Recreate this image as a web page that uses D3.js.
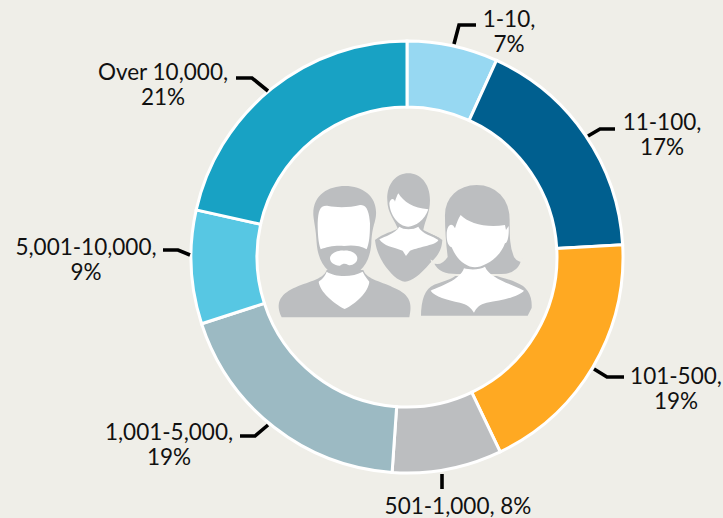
<!DOCTYPE html>
<html><head><meta charset="utf-8">
<script src="https://cdn.jsdelivr.net/npm/d3@7/dist/d3.min.js"></script>
<style>html,body{margin:0;padding:0;background:#efeee8}svg{display:block}</style>
</head><body><div id="chart"></div>
<script>
const categories=["1-10","11-100","101-500","501-1,000","1,001-5,000","5,001-10,000","Over 10,000"];
const values=[6.8,17.3,18.8,8.2,18.9,8.5,21.5];
const colors=["#97d8f2","#005f8f","#ffa922","#bcbec0","#9cbac3","#57c7e3","#18a2c4"];
const labelLines=[["1-10,","7%"],["11-100,","17%"],["101-500,","19%"],["501-1,000, 8%"],["1,001-5,000,","19%"],["5,001-10,000,","9%"],["Over 10,000,","21%"]];
const labelPos=[[509,27],[662,130],[676,384],[458,514],[169,440],[86,255],[163,80]];
const leaders=[[[454,44],[459,25],[476,25]],[[588,136],[600,129],[615,129]],[[594,369],[607,377],[624,377]],[[442,474],[442,489]],[[240,436],[255,436],[268,425]],[[163,250],[178,250],[190,255]],[[236,78],[252,78],[268,91]]];
const W=723,H=518,cx=407,cy=257,R=216,r=150;
const svg=d3.select("#chart").append("svg").attr("width",W).attr("height",H);
svg.append("rect").attr("width",W).attr("height",H).attr("fill","#efeee8");
const pie=d3.pie().sort(null).value(d=>d)(values);
const arc=d3.arc().innerRadius(r).outerRadius(R);
svg.append("g").attr("transform",`translate(${cx},${cy})`).selectAll("path").data(pie).join("path")
 .attr("d",arc).attr("fill",(d,i)=>colors[i]).attr("stroke","#fff").attr("stroke-width",3);
const line=d3.line();
svg.append("g").selectAll("path").data(leaders).join("path").attr("d",d=>line(d))
 .attr("fill","none").attr("stroke","#000").attr("stroke-width",3.6);
const t=svg.append("g").attr("font-family","Lato, 'Open Sans', sans-serif").attr("font-size",22.5).attr("fill","#111").attr("text-anchor","middle")
 .selectAll("text").data(labelLines).join("text");
t.each(function(d,i){const s=d3.select(this);d.forEach((l,j)=>s.append("tspan").attr("x",labelPos[i][0]).attr("y",labelPos[i][1]+j*25).text(l));});
const G="#bcbec0",B="#efeee8",Wh="#fff";
const icon=[
["M352,120C350,70 380,40 415,40C450,40 480,70 480,120C480,160 465,180 460,210L510,235L375,235L385,210C375,180 352,160 352,120Z",G],
["M315,240C340,220 370,215 385,205L450,205C465,220 500,225 517,240C515,275 500,290 480,310C450,345 425,365 405,365C385,365 360,340 340,310C325,285 318,265 315,240Z",G],
["M328,238C345,228 375,222 388,200C400,210 430,210 445,200C455,222 490,228 505,240C500,255 450,260 420,272L408,288L398,272C370,262 340,258 328,238Z",Wh],
["M358,130C360,115 372,112 375,125C380,110 382,105 385,100C400,125 430,145 475,148C465,180 435,200 415,200C385,200 360,165 358,130Z",Wh],
["M35,472C15,430 30,405 70,385C110,365 160,360 170,330L280,330C290,360 340,365 375,385C420,405 428,430 418,472Z",G],
["M130,165C128,105 175,78 225,78C280,78 322,110 318,165C316,190 306,200 304,250C300,310 270,348 222,348C175,348 145,310 140,250C138,205 132,190 130,165Z",G],
["M143,190C145,150 150,135 175,138C200,143 240,143 270,135C292,132 298,160 300,190C300,225 298,250 290,268C270,255 240,255 222,258C200,255 170,260 152,268C145,250 143,220 143,190Z",Wh],
["M180,295C180,280 205,270 222,272C240,270 262,280 262,295C262,310 245,318 235,315C225,310 220,310 210,317C195,318 180,308 180,295Z",Wh],
["M170,335C195,352 250,352 278,335C285,350 295,360 298,365C295,395 260,430 224,447C190,430 150,395 146,365C155,358 165,350 170,335Z",Wh],
["M450,470C450,420 460,385 490,372C530,358 560,350 575,325L650,325C665,350 700,345 740,365C780,380 790,410 788,445L775,470Z",G,B],
["M522,170C520,110 565,72 620,72C680,72 722,115 722,180C722,230 722,260 735,290C745,305 755,305 757,295C755,320 735,345 695,345L560,345C530,345 500,340 487,305C505,315 520,305 530,290C525,250 522,210 522,170Z",G,B],
["M482,392C510,380 570,360 582,325C600,330 630,330 645,320C660,355 720,370 762,392C745,410 700,420 650,428C630,432 618,445 612,458C605,445 590,432 570,428C530,420 495,410 482,392Z",Wh],
["M530,225C530,195 545,185 555,205C560,190 565,175 572,165C595,190 650,205 705,195L708,210L716,198C718,230 712,250 705,250C690,295 640,322 615,322C590,322 560,300 545,262C535,258 530,245 530,225Z",Wh]
];
svg.append("g").attr("transform","translate(270,160) scale(0.3333)").selectAll("path").data(icon).join("path")
 .attr("d",d=>d[0]).attr("fill",d=>d[1]).attr("stroke",d=>d[2]||"none").attr("stroke-width",d=>d[2]?6:0);
</script></body></html>
